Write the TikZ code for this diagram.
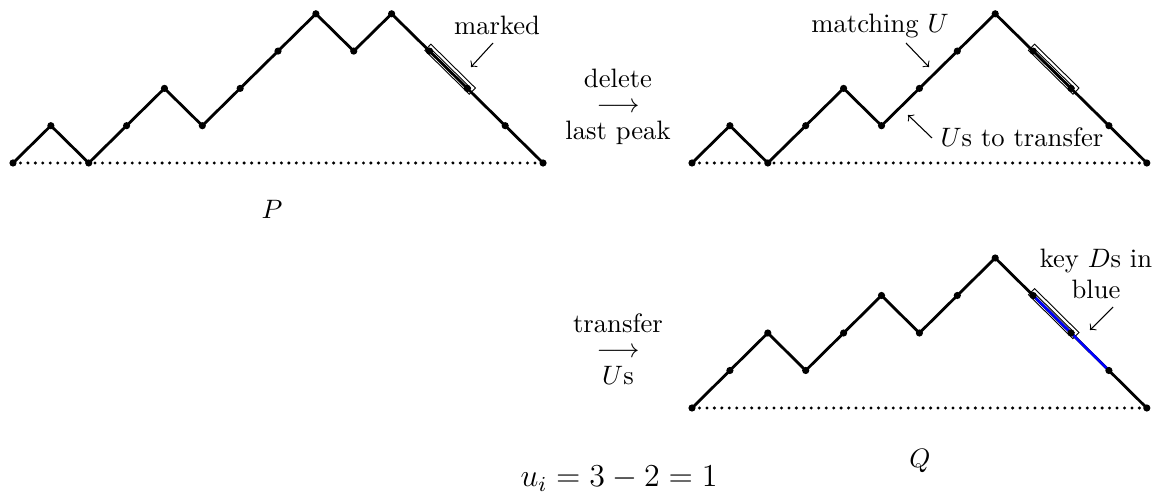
\documentclass[tikz,border=0pt]{standalone}
\usetikzlibrary{calc}
\begin{document}
\begin{tikzpicture}[x=0.013195cm,y=-0.013195cm,
  pathline/.style={line width=1.05pt, line join=miter},
  groundline/.style={line width=1.25pt, line cap=round, dash pattern=on 0pt off 2.8pt},
  pointer/.style={->, line width=0.4pt},
  markbox/.style={double, line width=0.4pt, double distance=0.8pt},
  bluekey/.style={blue, line width=0.95pt},
  vdot/.style={radius=1.35pt},
  lbl/.style={inner sep=0pt, anchor=base},
  stack/.style={inner sep=0pt, anchor=north, align=center}]
\useasboundingbox (0,0) rectangle (1155,495);
% vertices
\foreach \h [count=\i from 0] in {0,1,0,1,2,1,2,3,4,3,4,3,2,1,0}
  \coordinate (p\i) at ({13+37.86*\i},{163-37.3*\h});
\foreach \h [count=\i from 0] in {0,1,0,1,2,1,2,3,4,3,2,1,0}
  \coordinate (r\i) at ({692+37.9*\i},{163-37.3*\h});
\foreach \h [count=\i from 0] in {0,1,2,1,2,3,2,3,4,3,2,1,0}
  \coordinate (q\i) at ({692+37.9*\i},{408-37.5*\h});
% marked boxes
\begin{scope}[shift={(p11)}, rotate=-44.57]
  \draw[markbox] (-0.8pt,-0.4pt) rectangle (21.4pt,1.6pt);
\end{scope}
\begin{scope}[shift={(r9)}, rotate=-44.54]
  \draw[markbox] (-0.8pt,-0.4pt) rectangle (21.4pt,1.6pt);
\end{scope}
\begin{scope}[shift={(q9)}, rotate=-44.7]
  \draw[markbox] (-0.8pt,-0.4pt) rectangle (21.4pt,1.6pt);
\end{scope}
% ground lines
\draw[groundline] (p0) -- (p14);
\draw[groundline] (r0) -- (r12);
\draw[groundline] (q0) -- (q12);
% paths
\draw[pathline] (p0) \foreach \i in {1,...,14} {-- (p\i)};
\draw[pathline] (r0) \foreach \i in {1,...,12} {-- (r\i)};
\draw[pathline] (q0) \foreach \i in {1,...,12} {-- (q\i)};
\draw[bluekey] (q9) -- (q10) -- (q11);
% dots
\foreach \i in {0,...,14} \fill[vdot] (p\i) circle;
\foreach \i in {0,...,12} \fill[vdot] (r\i) circle;
\foreach \i in {0,...,12} \fill[vdot] (q\i) circle;
% labels
\node[lbl] (mk) at (497,35) {marked};
\coordinate (mkA) at (493,43); \coordinate (mkB) at (471,67);
\draw[pointer] (mkA) -- (mkB);
\node[stack] (dl) at (618,68.5) {delete\\[-2.6pt]$\longrightarrow$\\[-1.8pt]last peak};
\node[stack] (tr) at (618,313.5) {transfer\\[-2.6pt]$\longrightarrow$\\[-1.8pt]$U$s};
\node[lbl] (mt) at (880,33) {matching $U$};
\coordinate (mtA) at (906,43); \coordinate (mtB) at (929,67);
\draw[pointer] (mtA) -- (mtB);
\node[lbl] (ut) at (1022,147) {$U$s to transfer};
\coordinate (utA) at (932,138); \coordinate (utB) at (908,115);
\draw[pointer] (utA) -- (utB);
\node[stack] (kd) at (1096,248) {key $D$s in\\blue};
\coordinate (kdA) at (1113,307); \coordinate (kdB) at (1090,330);
\draw[pointer] (kdA) -- (kdB);
\node[lbl] (P) at (272,219) {$P$};
\node[lbl] (Q) at (920,468) {$Q$};
\node[lbl, font=\large] (ui) at (619,487) {$u_i = 3 - 2 = 1$};
\end{tikzpicture}
\end{document}
